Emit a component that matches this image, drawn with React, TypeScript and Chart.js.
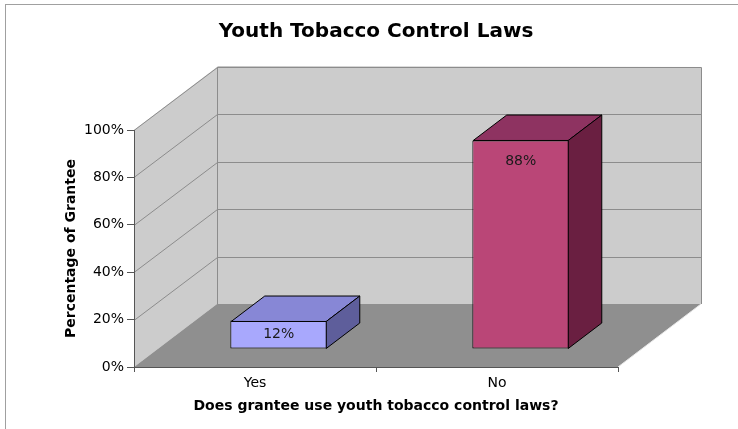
import React, { useEffect, useRef } from 'react';
import { Chart, registerables } from 'chart.js';

Chart.register(...registerables);

// Chart content
const chartTitle = 'Youth Tobacco Control Laws';
const categories = ['Yes', 'No'];
const percentages = [12, 88];
const yTitle = 'Percentage of Grantee';
const xTitle = 'Does grantee use youth tobacco control laws?';
const yMin = 0;
const yMax = 100;
const yStep = 20;

// Bar face colours (front, top, side) per category
const frontColors = ['#a8a8fd', '#ba4677'];
const topColors = ['#8787d6', '#8e3361'];
const sideColors = ['#5e5e9b', '#6a1f41'];

// 3D box geometry
const WALL_DX = 83; // horizontal offset of the back wall from the front plane
const WALL_DY = 63; // vertical offset of the back wall from the front plane
const BAR_Z0 = 0.286; // depth where the bar front faces sit (fraction of wall depth)
const BAR_Z1 = 0.69; // depth where the bar back faces sit

const FONT = 'DejaVu Sans';

function poly(ctx: CanvasRenderingContext2D, pts: number[][]) {
  ctx.beginPath();
  ctx.moveTo(pts[0][0], pts[0][1]);
  for (let i = 1; i < pts.length; i++) ctx.lineTo(pts[i][0], pts[i][1]);
  ctx.closePath();
}

const box3d = {
  id: 'box3d',
  beforeDraw(chart: any) {
    const { ctx, chartArea } = chart;
    const { left, right, top, bottom } = chartArea;
    const yScale = chart.scales.y;
    ctx.save();
    ctx.fillStyle = '#ffffff';
    ctx.fillRect(0, 0, chart.width, chart.height);

    // outer frame
    ctx.strokeStyle = '#a0a0a0';
    ctx.lineWidth = 1;
    ctx.strokeRect(5.5, 4.5, chart.width + 20, chart.height + 20);

    const bl = left + WALL_DX;
    const br = right + WALL_DX;
    const bt = top - WALL_DY;
    const bb = bottom - WALL_DY;

    // back wall
    ctx.fillStyle = '#cccccc';
    ctx.fillRect(bl, bt, br - bl, bb - bt);
    // side wall
    poly(ctx, [[left, top], [bl, bt], [bl, bb], [left, bottom]]);
    ctx.fill();
    // floor
    ctx.fillStyle = '#8f8f8f';
    poly(ctx, [[left, bottom], [right, bottom], [br, bb], [bl, bb]]);
    ctx.fill();

    // grid lines across side and back walls
    ctx.strokeStyle = '#8c8c8c';
    ctx.lineWidth = 1;
    for (const t of yScale.ticks) {
      if (t.value <= yMin) continue;
      const py = Math.round(yScale.getPixelForValue(t.value)) + 0.5;
      ctx.beginPath();
      ctx.moveTo(left, py);
      ctx.lineTo(bl + 0.5, py - WALL_DY);
      ctx.lineTo(br, py - WALL_DY);
      ctx.stroke();
    }
    // wall edges
    ctx.beginPath();
    ctx.moveTo(bl + 0.5, bb);
    ctx.lineTo(bl + 0.5, bt);
    ctx.lineTo(br + 0.5, bt + 0.5);
    ctx.lineTo(br + 0.5, bb);
    ctx.stroke();
    ctx.strokeStyle = '#e8e8e8';
    ctx.beginPath();
    ctx.moveTo(right, bottom);
    ctx.lineTo(br, bb);
    ctx.stroke();
    ctx.restore();
  },
  beforeDatasetsDraw(chart: any) {
    const ctx = chart.ctx;
    ctx.save();
    ctx.translate(WALL_DX * BAR_Z0, -WALL_DY * BAR_Z0);
  },
  afterDatasetsDraw(chart: any) {
    const ctx = chart.ctx;
    const meta = chart.getDatasetMeta(0);
    const ddx = WALL_DX * (BAR_Z1 - BAR_Z0);
    const ddy = WALL_DY * (BAR_Z1 - BAR_Z0);
    meta.data.forEach((bar: any, i: number) => {
      const { x, y, base, width } = bar.getProps(['x', 'y', 'base', 'width'], true);
      const l = Math.round(x - width / 2) + 0.5;
      const r = Math.round(x + width / 2) - 0.5;
      const t = Math.round(y) + 0.5;
      const b = Math.round(base) - 0.5;
      ctx.lineWidth = 1;
      ctx.strokeStyle = '#000000';
      ctx.lineJoin = 'round';
      // top face
      ctx.fillStyle = topColors[i];
      poly(ctx, [[l, t], [r, t], [r + ddx, t - ddy], [l + ddx, t - ddy]]);
      ctx.fill();
      ctx.stroke();
      // side face
      ctx.fillStyle = sideColors[i];
      poly(ctx, [[r, t], [r + ddx, t - ddy], [r + ddx, b - ddy], [r, b]]);
      ctx.fill();
      ctx.stroke();
      // value label
      const value = chart.data.datasets[0].data[i];
      const ly = Math.min((y + base) / 2, y + 21);
      ctx.fillStyle = '#1a1a1a';
      ctx.font = `14px "${FONT}"`;
      ctx.textAlign = 'center';
      ctx.textBaseline = 'middle';
      ctx.fillText(`${value}%`, x, ly);
    });
    ctx.restore();
  },
};

export default function App() {
  const canvasRef = useRef<HTMLCanvasElement | null>(null);

  useEffect(() => {
    if (!canvasRef.current) return;
    const chart = new Chart(canvasRef.current, {
      type: 'bar',
      data: {
        labels: categories,
        datasets: [
          {
            data: percentages,
            backgroundColor: frontColors,
            borderColor: '#000000',
            borderWidth: 1,
            borderSkipped: false,
            barPercentage: 0.4,
            categoryPercentage: 1,
            clip: false,
          } as any,
        ],
      },
      options: {
        responsive: false,
        animation: false,
        devicePixelRatio: 1,
        layout: { padding: { left: 63, right: 120, top: 0, bottom: 14.6 } },
        plugins: {
          legend: { display: false },
          tooltip: { enabled: false },
          title: {
            display: true,
            text: chartTitle,
            fullSize: false,
            color: '#000000',
            font: { family: FONT, size: 20, weight: 'bold' },
            padding: { top: 19.5, bottom: 86.5 },
          },
        },
        scales: {
          x: {
            grid: { display: true, drawOnChartArea: false, offset: true, tickLength: 5, color: '#555555' },
            border: { display: true, color: '#555555' },
            ticks: { color: '#000000', font: { family: FONT, size: 14 }, padding: 3 },
            title: {
              display: true,
              text: xTitle,
              color: '#000000',
              font: { family: FONT, size: 14, weight: 'bold' },
              padding: { top: 0, bottom: 0 },
            },
            afterFit: (s: any) => {
              s.height = 47.4;
            },
          },
          y: {
            min: yMin,
            max: yMax,
            grid: { display: true, drawOnChartArea: false, tickLength: 7, color: '#555555' },
            border: { display: true, color: '#555555' },
            ticks: {
              stepSize: yStep,
              color: '#000000',
              font: { family: FONT, size: 14 },
              padding: 3,
              callback: (v: any) => `${v}%`,
            },
            title: {
              display: true,
              text: yTitle,
              color: '#000000',
              font: { family: FONT, size: 14, weight: 'bold' },
              padding: { top: 0, bottom: 0 },
            },
            afterFit: (s: any) => {
              s.width = 71;
            },
          },
        },
      },
      plugins: [box3d],
    });
    return () => chart.destroy();
  }, []);

  return (
    <div style={{ position: 'absolute', left: 0, top: 0, width: 738, height: 429, background: '#ffffff' }}>
      <canvas ref={canvasRef} width={738} height={429} style={{ display: 'block' }} />
    </div>
  );
}
